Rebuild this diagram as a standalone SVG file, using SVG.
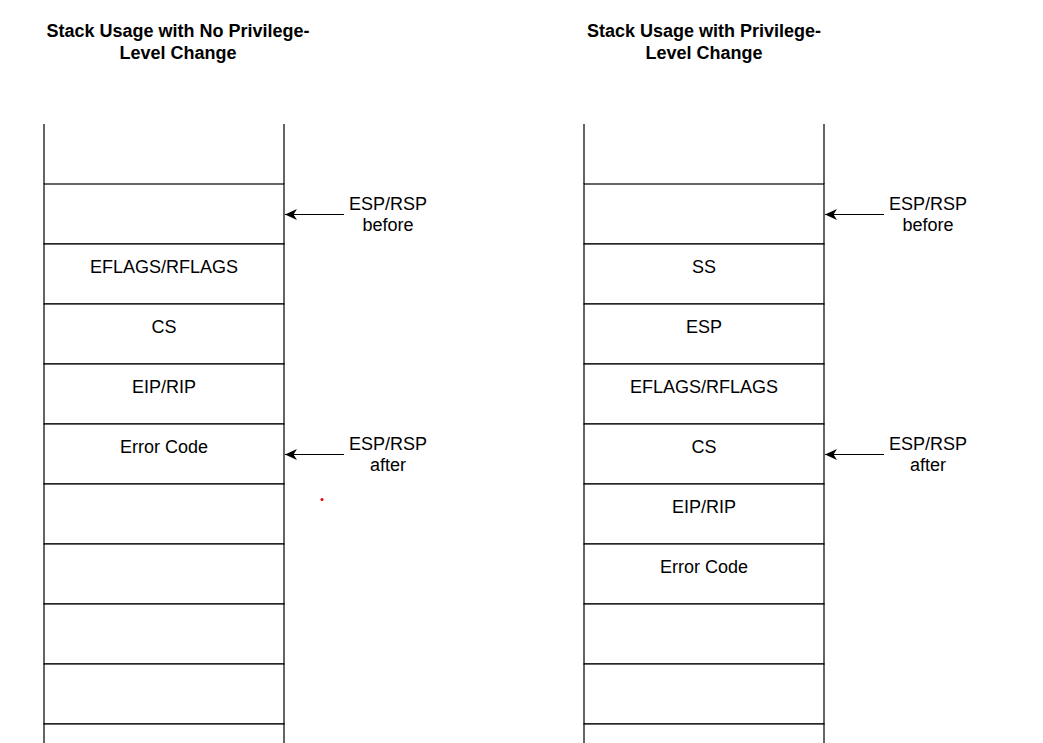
<svg xmlns="http://www.w3.org/2000/svg" width="1043" height="743" viewBox="0 0 1043 743">
<style>
.cell{fill:#fff;stroke:#000;stroke-width:1.2}
.side{stroke:#000;stroke-width:1.2;fill:none}
.t{font-family:"Liberation Sans",Arial,sans-serif;font-size:18px;fill:#000;text-anchor:middle}
.title{font-family:"Liberation Sans",Arial,sans-serif;font-size:18px;font-weight:bold;fill:#000;text-anchor:middle}
.conn{stroke:#000;stroke-width:1.2;fill:none;marker-end:url(#arr)}
</style>
<defs>
<marker id="arr" markerWidth="14" markerHeight="12" refX="12" refY="5.5" orient="auto" markerUnits="userSpaceOnUse">
<path d="M0,0 L12,5.5 L0,11 L3.5,5.5 z" fill="#000"/>
</marker>
</defs>
<rect width="1043" height="743" fill="#fff"/>

<g id="title-left"><text class="title" x="178" y="37">Stack Usage with No Privilege-</text><text class="title" x="178" y="59">Level Change</text></g>
<g id="title-right"><text class="title" x="704" y="37">Stack Usage with Privilege-</text><text class="title" x="704" y="59">Level Change</text></g>

<g id="left-stack">
<g id="L0"><path class="side" d="M44,124 V184 M284,124 V184"/></g>
<g id="L1"><rect class="cell" x="44" y="184" width="240" height="60"/></g>
<g id="L2"><rect class="cell" x="44" y="244" width="240" height="60"/><text class="t" x="164" y="273">EFLAGS/RFLAGS</text></g>
<g id="L3"><rect class="cell" x="44" y="304" width="240" height="60"/><text class="t" x="164" y="333">CS</text></g>
<g id="L4"><rect class="cell" x="44" y="364" width="240" height="60"/><text class="t" x="164" y="393">EIP/RIP</text></g>
<g id="L5"><rect class="cell" x="44" y="424" width="240" height="60"/><text class="t" x="164" y="453">Error Code</text></g>
<g id="L6"><rect class="cell" x="44" y="484" width="240" height="60"/></g>
<g id="L7"><rect class="cell" x="44" y="544" width="240" height="60"/></g>
<g id="L8"><rect class="cell" x="44" y="604" width="240" height="60"/></g>
<g id="L9"><rect class="cell" x="44" y="664" width="240" height="60"/></g>
<g id="L10"><rect class="cell" x="44" y="724" width="240" height="60"/></g>
</g>

<g id="right-stack">
<g id="R0"><path class="side" d="M584,124 V184 M824,124 V184"/></g>
<g id="R1"><rect class="cell" x="584" y="184" width="240" height="60"/></g>
<g id="R2"><rect class="cell" x="584" y="244" width="240" height="60"/><text class="t" x="704" y="273">SS</text></g>
<g id="R3"><rect class="cell" x="584" y="304" width="240" height="60"/><text class="t" x="704" y="333">ESP</text></g>
<g id="R4"><rect class="cell" x="584" y="364" width="240" height="60"/><text class="t" x="704" y="393">EFLAGS/RFLAGS</text></g>
<g id="R5"><rect class="cell" x="584" y="424" width="240" height="60"/><text class="t" x="704" y="453">CS</text></g>
<g id="R6"><rect class="cell" x="584" y="484" width="240" height="60"/><text class="t" x="704" y="513">EIP/RIP</text></g>
<g id="R7"><rect class="cell" x="584" y="544" width="240" height="60"/><text class="t" x="704" y="573">Error Code</text></g>
<g id="R8"><rect class="cell" x="584" y="604" width="240" height="60"/></g>
<g id="R9"><rect class="cell" x="584" y="664" width="240" height="60"/></g>
<g id="R10"><rect class="cell" x="584" y="724" width="240" height="60"/></g>
</g>

<g id="label-left-before"><text class="t" x="388" y="209.5">ESP/RSP</text><text class="t" x="388" y="231">before</text></g>
<g id="label-left-after"><text class="t" x="388" y="449.5">ESP/RSP</text><text class="t" x="388" y="471">after</text></g>
<g id="label-right-before"><text class="t" x="928" y="209.5">ESP/RSP</text><text class="t" x="928" y="231">before</text></g>
<g id="label-right-after"><text class="t" x="928" y="449.5">ESP/RSP</text><text class="t" x="928" y="471">after</text></g>

<g id="connectors">
<path class="conn" d="M344,214.5 H285"/>
<path class="conn" d="M344,454.5 H285"/>
<path class="conn" d="M884,214.5 H825"/>
<path class="conn" d="M884,454.5 H825"/>
</g>

<circle cx="322" cy="499.5" r="1.5" fill="#e00"/>
</svg>
